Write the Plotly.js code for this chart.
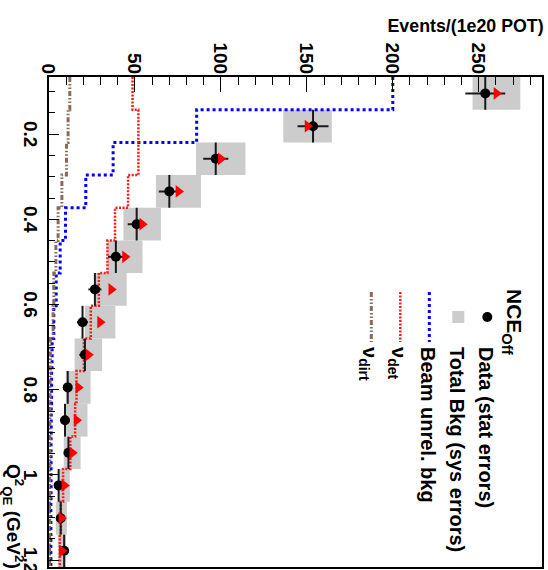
<!DOCTYPE html>
<html>
<head>
<meta charset="utf-8">
<script src="https://cdn.plot.ly/plotly-3.0.1.min.js"></script>
<style>
  html, body { margin: 0; padding: 0; background: #ffffff; overflow: hidden; }
  #wrap { position: absolute; left: 0; top: 0; width: 570px; height: 548px;
          transform-origin: 0 0; transform: translate(548px, 0) rotate(90deg); }
  #chart { width: 570px; height: 548px; }
</style>
</head>
<body>
<div id="wrap"><div id="chart"></div></div>
<script>
// Q^2_QE bin edges (GeV^2)
const binEdges = [0.066, 0.143, 0.220, 0.296, 0.373, 0.450, 0.526, 0.603, 0.680, 0.756, 0.833, 0.910, 0.986, 1.063, 1.140, 1.216];
// Events / (1e20 POT)
const dataEvents = [253.8, 153.6, 97.0, 70.0, 51.0, 38.9, 26.7, 19.5, 20.9, 10.9, 9.3, 11.3, 5.6, 6.8, 8.8];
const statErr    = [11.6, 9.0, 7.3, 6.1, 5.2, 4.5, 3.8, 3.2, 3.3, 2.4, 2.2, 2.4, 1.7, 1.9, 2.2];
const totalBkg   = [260.3, 150.4, 99.9, 75.3, 54.2, 44.2, 36.2, 29.7, 22.9, 17.0, 16.0, 13.5, 8.9, 7.2, 7.5];
const sysErr     = [13.9, 14.1, 14.4, 13.1, 10.9, 10.2, 9.0, 8.9, 8.0, 7.2, 6.4, 4.9, 3.2, 3.2, 2.4];
const beamUnrel  = [200.0, 85.9, 37.3, 21.4, 9.6, 6.5, 4.2, 2.8, 1.8, 1.5, 1.3, 1.2, 1.2, 1.1, 1.1];
const nuDet      = [48.6, 52.0, 52.0, 46.0, 38.4, 34.0, 29.0, 24.3, 20.3, 16.0, 15.2, 12.4, 8.2, 6.9, 6.3];
const nuDirt     = [12.1, 11.1, 10.2, 7.5, 5.3, 4.0, 2.8, 2.4, 0.8, 0.6, 0.5, 0.5, 0.4, 0.4, 0.4];
const legendNames = ['Data (stat errors)', 'Total Bkg (sys errors)', 'Beam unrel. bkg', '&#957;<sub>det</sub>', '&#957;<sub>dirt</sub>'];
const legendTitle = 'NCE<sub>Off</sub>';
const xTitle = 'Q<sup>2</sup><sub>QE</sub> (GeV<sup>2</sup>)';
const yTitle = 'Events/(1e20 POT)';

const centers = dataEvents.map((_, i) => (binEdges[i] + binEdges[i + 1]) / 2);
const widths  = dataEvents.map((_, i) => binEdges[i + 1] - binEdges[i]);
const halfW   = widths.map(w => w / 2);
const stepY = arr => arr.concat([arr[arr.length - 1]]);

const FONT = 'Liberation Sans, Arial, Helvetica, sans-serif';

const traces = [
  { type: 'bar', x: centers, width: widths,
    base: totalBkg.map((v, i) => v - sysErr[i]),
    y: sysErr.map(s => 2 * s),
    marker: { color: '#cccccc', line: { width: 0 } },
    name: legendNames[1], legendrank: 2, showlegend: true, hoverinfo: 'skip' },
  { type: 'scatter', mode: 'lines', x: binEdges, y: stepY(beamUnrel),
    line: { shape: 'hv', color: '#0000ff', width: 3, dash: 'dot' },
    name: legendNames[2], legendrank: 3 },
  { type: 'scatter', mode: 'lines', x: binEdges, y: stepY(nuDet),
    line: { shape: 'hv', color: '#ff1a1a', width: 2.5, dash: '2px,1.5px' },
    name: legendNames[3], legendrank: 4 },
  { type: 'scatter', mode: 'lines', x: binEdges, y: stepY(nuDirt),
    line: { shape: 'hv', color: '#8b6a58', width: 3, dash: '5px,2px,1.5px,2px,1.5px,2px' },
    name: legendNames[4], legendrank: 5 },
  { type: 'scatter', mode: 'markers', x: centers, y: dataEvents,
    marker: { symbol: 'circle', size: 10, color: '#000000' },
    error_x: { type: 'data', array: halfW, thickness: 2, width: 0, color: '#1a1a1a' },
    error_y: { type: 'data', array: statErr, thickness: 2, width: 0, color: '#1a1a1a' },
    name: legendNames[0], legendrank: 1 },
  { type: 'scatter', mode: 'markers', x: centers, y: totalBkg,
    marker: { symbol: 'triangle-up', size: 11, color: '#ff0000' },
    showlegend: false }
];

const plotL = 77, plotR = 567, plotT = 6, plotB = 499;
const layout = {
  width: 570, height: 548,
  margin: { l: plotL, r: 570 - plotR, t: plotT, b: 548 - plotB, pad: 0 },
  paper_bgcolor: '#ffffff', plot_bgcolor: '#ffffff',
  showlegend: true,
  font: { family: FONT, color: '#000000' },
  xaxis: {
    range: [0.066, 1.216], tick0: 0, dtick: 0.2,
    ticks: 'inside', ticklen: 10, tickwidth: 1, tickcolor: '#000',
    minor: { dtick: 0.05, ticks: 'inside', ticklen: 6, tickwidth: 1, tickcolor: '#000', showgrid: false },
    showline: true, linewidth: 2, linecolor: '#000', mirror: true,
    showgrid: false, zeroline: false, ticklabeloverflow: 'allow',
    tickfont: { family: FONT, size: 19, weight: 700 }
  },
  yaxis: {
    range: [0, 286.8], tick0: 0, dtick: 50,
    ticks: 'inside', ticklen: 15, tickwidth: 1, tickcolor: '#000',
    minor: { dtick: 10, ticks: 'inside', ticklen: 7.5, tickwidth: 1, tickcolor: '#000', showgrid: false },
    showline: true, linewidth: 2, linecolor: '#000', mirror: true,
    showgrid: false, zeroline: false, ticklabeloverflow: 'allow',
    ticklabelstandoff: -3,
    tickfont: { family: FONT, size: 19, weight: 700 }
  },
  legend: {
    x: (287 - plotL) / (plotR - plotL), xanchor: 'left',
    y: 0.984, yanchor: 'top',
    bgcolor: 'rgba(0,0,0,0)', borderwidth: 0,
    font: { family: FONT, size: 20, weight: 700 },
    title: { text: legendTitle, font: { family: FONT, size: 21, weight: 700 } },
    itemwidth: 50, tracegroupgap: 0
  },
  annotations: [
    { text: yTitle, xref: 'paper', yref: 'paper',
      x: (25.5 - plotL) / (plotR - plotL), y: (plotB - 3) / (plotB - plotT),
      xanchor: 'center', yanchor: 'top', textangle: -90, showarrow: false,
      font: { family: FONT, size: 17.8, weight: 700 } },
    { text: xTitle, xref: 'paper', yref: 'paper',
      x: (571 - plotL) / (plotR - plotL), y: (plotB - 534) / (plotB - plotT),
      xanchor: 'right', yanchor: 'middle', showarrow: false,
      font: { family: FONT, size: 19, weight: 700 } }
  ]
};

Plotly.newPlot('chart', traces, layout, { staticPlot: true, displayModeBar: false });
</script>
</body>
</html>
